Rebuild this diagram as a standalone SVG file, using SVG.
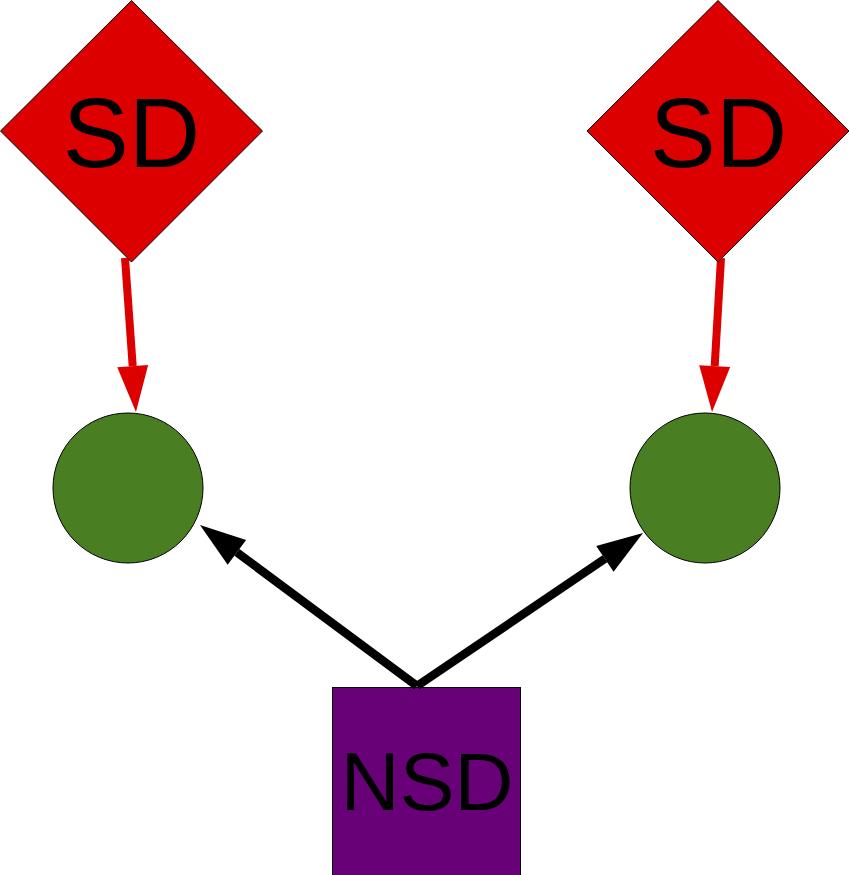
<svg xmlns="http://www.w3.org/2000/svg" width="850" height="875" viewBox="0 0 850 875">
  <style>
    .sd { fill: #dc0000; stroke: #000; stroke-width: 1; }
    .dot { fill: #4a7e22; stroke: #000; stroke-width: 1; }
    .nsd { fill: #680077; stroke: #000; stroke-width: 1; }
    .lbl { font-family: "Liberation Sans", Arial, sans-serif; fill: #000; text-anchor: middle; }
    .red { stroke: #dc0000; stroke-width: 8; fill: none; marker-end: url(#headRed); }
    .blk { stroke: #000; stroke-width: 8.5; fill: none; marker-end: url(#headBlk); }
  </style>
  <defs>
    <marker id="headRed" markerUnits="userSpaceOnUse" markerWidth="46" markerHeight="31" refX="0" refY="15.5" orient="auto" overflow="visible">
      <path d="M0,0 L46,15.5 L0,31 Z" fill="#dc0000"/>
    </marker>
    <marker id="headBlk" markerUnits="userSpaceOnUse" markerWidth="46" markerHeight="31" refX="0" refY="15.5" orient="auto" overflow="visible">
      <path d="M0,0 L46,15.5 L0,31 Z" fill="#000"/>
    </marker>
  </defs>
  <g id="nsd">
    <rect class="nsd" x="332.5" y="687.5" width="188" height="190"/>
    <text class="lbl" x="427" y="810" font-size="82">NSD</text>
  </g>
  <g id="connectors">
    <line class="red" x1="125" y1="258" x2="132.7" y2="366.1"/>
    <line class="red" x1="721" y1="258" x2="714.7" y2="366.1"/>
    <line class="blk" x1="417" y1="686" x2="236.9" y2="552.4"/>
    <line class="blk" x1="417" y1="686" x2="604.9" y2="558.8"/>
  </g>
  <g id="sd-left">
    <polygon class="sd" points="131.5,0.5 262.5,131 131.5,262 0.5,131"/>
    <text class="lbl" x="131.5" y="167" font-size="99">SD</text>
  </g>
  <g id="sd-right">
    <polygon class="sd" points="718,0.5 849,131 718,262 587,131"/>
    <text class="lbl" x="718.5" y="167" font-size="99">SD</text>
  </g>
  <g id="dot-left">
    <circle class="dot" cx="128" cy="488" r="75"/>
  </g>
  <g id="dot-right">
    <circle class="dot" cx="705" cy="488" r="75"/>
  </g>
</svg>
